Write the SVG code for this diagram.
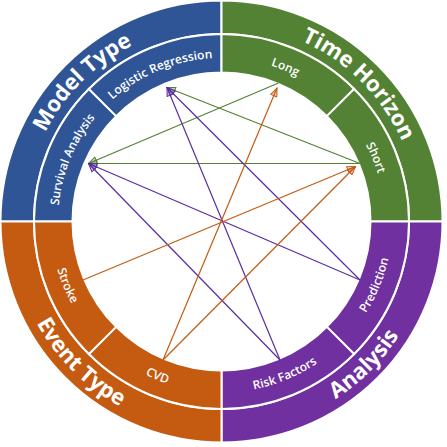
<svg xmlns="http://www.w3.org/2000/svg" width="447" height="447" viewBox="0 0 447 447">
<style>
.seg{stroke:#fff;stroke-width:2}
.blue{fill:#2F5597}.green{fill:#548235}.orange{fill:#C55A11}.purple{fill:#7030A0}
.lo{font-family:"Open Sans","DejaVu Sans",sans-serif;font-weight:700;font-size:22px;fill:#fff}
.li{font-family:"Open Sans","DejaVu Sans",sans-serif;font-weight:600;font-size:12px;fill:#fff}
.cn{stroke-width:1.2;fill:none}
.cg{stroke:#548235;marker-end:url(#ag)}
.co{stroke:#C55A11;marker-end:url(#ao)}
.cp{stroke:#5A2DA0;marker-end:url(#ap)}
</style>
<defs>
<marker id="ag" viewBox="-1 -1 12 10" refX="10" refY="4" markerWidth="10" markerHeight="8.3" markerUnits="userSpaceOnUse" orient="auto"><path d="M0,0 L10,4 L0,8 Z" fill="#548235" fill-opacity="0.3" stroke="#548235" stroke-width="1.2"/></marker>
<marker id="ao" viewBox="-1 -1 12 10" refX="10" refY="4" markerWidth="10" markerHeight="8.3" markerUnits="userSpaceOnUse" orient="auto"><path d="M0,0 L10,4 L0,8 Z" fill="#C55A11" fill-opacity="0.3" stroke="#C55A11" stroke-width="1.2"/></marker>
<marker id="ap" viewBox="-1 -1 12 10" refX="10" refY="4" markerWidth="10" markerHeight="8.3" markerUnits="userSpaceOnUse" orient="auto"><path d="M0,0 L10,4 L0,8 Z" fill="#5A2DA0" fill-opacity="0.3" stroke="#5A2DA0" stroke-width="1.2"/></marker>
<path id="tp-model" d="M31.21,272.49 A196.5,196.5 0 0 1 272.49,31.21"/>
<path id="tp-time" d="M170.51,31.21 A196.5,196.5 0 0 1 411.79,272.49"/>
<path id="tp-analysis" d="M166.89,425.31 A211,211 0 0 0 425.31,166.89"/>
<path id="tp-event" d="M17.69,166.89 A211,211 0 0 0 276.11,425.31"/>
<path id="tp-lr" d="M58.90,200.09 A164.5,164.5 0 0 1 321.34,91.39"/>
<path id="tp-sa" d="M91.39,321.34 A164.5,164.5 0 0 1 200.09,58.90"/>
<path id="tp-long" d="M121.66,91.39 A164.5,164.5 0 0 1 384.10,200.09"/>
<path id="tp-short" d="M242.91,58.90 A164.5,164.5 0 0 1 351.61,321.34"/>
<path id="tp-pred" d="M243.89,391.53 A172,172 0 0 0 357.56,117.10"/>
<path id="tp-rf" d="M117.10,357.56 A172,172 0 0 0 391.53,243.89"/>
<path id="tp-cvd" d="M51.47,243.89 A172,172 0 0 0 325.90,357.56"/>
<path id="tp-stroke" d="M85.44,117.10 A172,172 0 0 0 199.11,391.53"/>
</defs>

<g id="model-type">
<path class="seg blue" d="M0.5,221.5 A221,221 0 0 1 221.5,0.5 L221.5,34 A187.5,187.5 0 0 0 34,221.5 Z"/>
<text class="lo"><textPath href="#tp-model" startOffset="50%" text-anchor="middle">Model Type</textPath></text>
</g>
<g id="time-horizon">
<path class="seg green" d="M221.5,0.5 A221,221 0 0 1 442.5,221.5 L409,221.5 A187.5,187.5 0 0 0 221.5,34 Z"/>
<text class="lo"><textPath href="#tp-time" startOffset="50%" text-anchor="middle">Time Horizon</textPath></text>
</g>
<g id="analysis">
<path class="seg purple" d="M442.5,221.5 A221,221 0 0 1 221.5,442.5 L221.5,409 A187.5,187.5 0 0 0 409,221.5 Z"/>
<text class="lo"><textPath href="#tp-analysis" startOffset="50%" text-anchor="middle">Analysis</textPath></text>
</g>
<g id="event-type">
<path class="seg orange" d="M221.5,442.5 A221,221 0 0 1 0.5,221.5 L34,221.5 A187.5,187.5 0 0 0 221.5,409 Z"/>
<text class="lo"><textPath href="#tp-event" startOffset="50%" text-anchor="middle">Event Type</textPath></text>
</g>

<g id="survival-analysis">
<path class="seg blue" d="M34,221.5 A187.5,187.5 0 0 1 88.92,88.92 L116.14,116.14 A149,149 0 0 0 72.5,221.5 Z"/>
<text class="li"><textPath href="#tp-sa" startOffset="50%" text-anchor="middle">Survival Analysis</textPath></text>
</g>
<g id="logistic-regression">
<path class="seg blue" d="M88.92,88.92 A187.5,187.5 0 0 1 221.5,34 L221.5,72.5 A149,149 0 0 0 116.14,116.14 Z"/>
<text class="li"><textPath href="#tp-lr" startOffset="50%" text-anchor="middle">Logistic Regression</textPath></text>
</g>
<g id="long">
<path class="seg green" d="M221.5,34 A187.5,187.5 0 0 1 354.08,88.92 L326.86,116.14 A149,149 0 0 0 221.5,72.5 Z"/>
<text class="li"><textPath href="#tp-long" startOffset="50%" text-anchor="middle">Long</textPath></text>
</g>
<g id="short">
<path class="seg green" d="M354.08,88.92 A187.5,187.5 0 0 1 409,221.5 L370.5,221.5 A149,149 0 0 0 326.86,116.14 Z"/>
<text class="li"><textPath href="#tp-short" startOffset="50%" text-anchor="middle">Short</textPath></text>
</g>
<g id="prediction">
<path class="seg purple" d="M409,221.5 A187.5,187.5 0 0 1 354.08,354.08 L326.86,326.86 A149,149 0 0 0 370.5,221.5 Z"/>
<text class="li"><textPath href="#tp-pred" startOffset="50%" text-anchor="middle">Prediction</textPath></text>
</g>
<g id="risk-factors">
<path class="seg purple" d="M354.08,354.08 A187.5,187.5 0 0 1 221.5,409 L221.5,370.5 A149,149 0 0 0 326.86,326.86 Z"/>
<text class="li"><textPath href="#tp-rf" startOffset="50%" text-anchor="middle">Risk Factors</textPath></text>
</g>
<g id="cvd">
<path class="seg orange" d="M221.5,409 A187.5,187.5 0 0 1 88.92,354.08 L116.14,326.86 A149,149 0 0 0 221.5,370.5 Z"/>
<text class="li"><textPath href="#tp-cvd" startOffset="50%" text-anchor="middle">CVD</textPath></text>
</g>
<g id="stroke">
<path class="seg orange" d="M88.92,354.08 A187.5,187.5 0 0 1 34,221.5 L72.5,221.5 A149,149 0 0 0 116.14,326.86 Z"/>
<text class="li"><textPath href="#tp-stroke" startOffset="50%" text-anchor="middle">Stroke</textPath></text>
</g>

<g id="connectors" class="cn">
<line class="cn cg" x1="278.5" y1="83" x2="88.5" y2="163.5"/>
<line class="cn cg" x1="360" y1="163.5" x2="88.5" y2="163.5"/>
<line class="cn cg" x1="360" y1="163.5" x2="167" y2="87.5"/>
<line class="cn cp" x1="360" y1="280" x2="167" y2="87.5"/>
<line class="cn cp" x1="360" y1="280" x2="88.5" y2="163.5"/>
<line class="cn cp" x1="280" y1="360" x2="167" y2="87.5"/>
<line class="cn cp" x1="280" y1="360" x2="88.5" y2="163.5"/>
<line class="cn co" x1="83" y1="280" x2="355.5" y2="166.5"/>
<line class="cn co" x1="163" y1="360" x2="355.5" y2="166.5"/>
<line class="cn co" x1="163" y1="360" x2="277" y2="88"/>
</g>
</svg>
